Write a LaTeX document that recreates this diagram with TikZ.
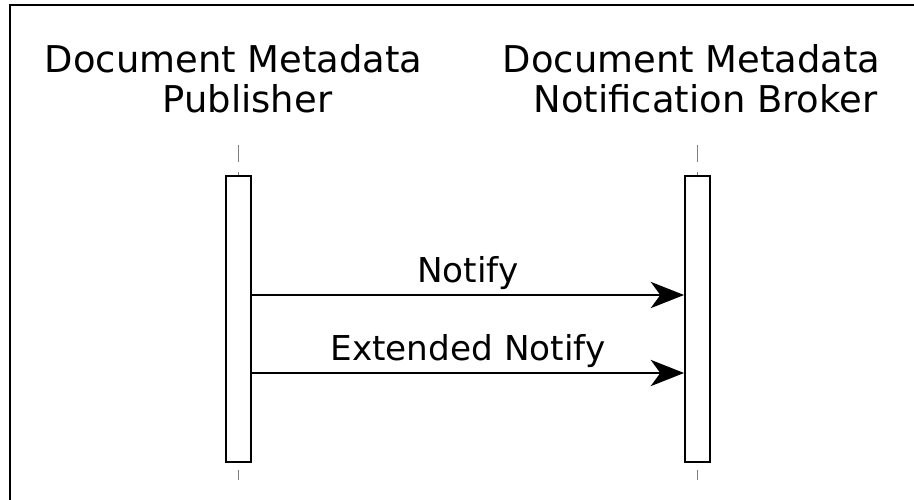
\documentclass[tikz,border=0pt]{standalone}
\usepackage{fontspec}
\setmainfont{DejaVu Sans}
\usetikzlibrary{arrows.meta,positioning}

\begin{document}
\begin{tikzpicture}[x=0.02cm,y=-0.02cm,
	actor/.style={align=center,inner sep=0pt,font=\fontsize{21}{22.8}\selectfont},
	bar/.style={draw,fill=white,line width=1.1pt,minimum width=0.5cm,minimum height=5.72cm,inner sep=0pt},
	lifeline/.style={gray,line width=0.7pt,dash pattern=on 9.7pt off 5.7pt},
	msg/.style={line width=1pt,-{Stealth[length=19pt,width=15pt,inset=5.5pt]}},
	msglabel/.style={midway,above,inner sep=2.3pt,font=\fontsize{19.5}{21}\selectfont}]

    \clip (0,0) rectangle (914,500);
    \draw[line width=1.1pt] (10,5) rectangle (930,520);

    \node[actor,anchor=base] (pub) at (247.5,113) {Document Metadata\hspace*{0.75em}\\Publisher};
    \node[actor,anchor=base] (broker) at (705.5,113) {Document Metadata\hspace*{0.75em}\\Notification Broker};

    \coordinate (pubtop) at (238.5,145);
    \coordinate (pubbot) at (238.5,480);
    \coordinate (brokertop) at (697.5,145);
    \coordinate (brokerbot) at (697.5,480);

    \draw[lifeline] (pubtop) -- (pubbot);
    \draw[lifeline] (brokertop) -- (brokerbot);

    \node[bar] (pubbar) at (238.5,319) {};
    \node[bar] (brokerbar) at (697.5,319) {};

    \coordinate (notify) at (468,295);
    \coordinate (extnotify) at (468,373);

    \draw[msg] (pubbar.east |- notify) -- (brokerbar.west |- notify) node[msglabel]{Notify};
    \draw[msg] (pubbar.east |- extnotify) -- (brokerbar.west |- extnotify) node[msglabel]{Extended Notify};
\end{tikzpicture}
\end{document}
